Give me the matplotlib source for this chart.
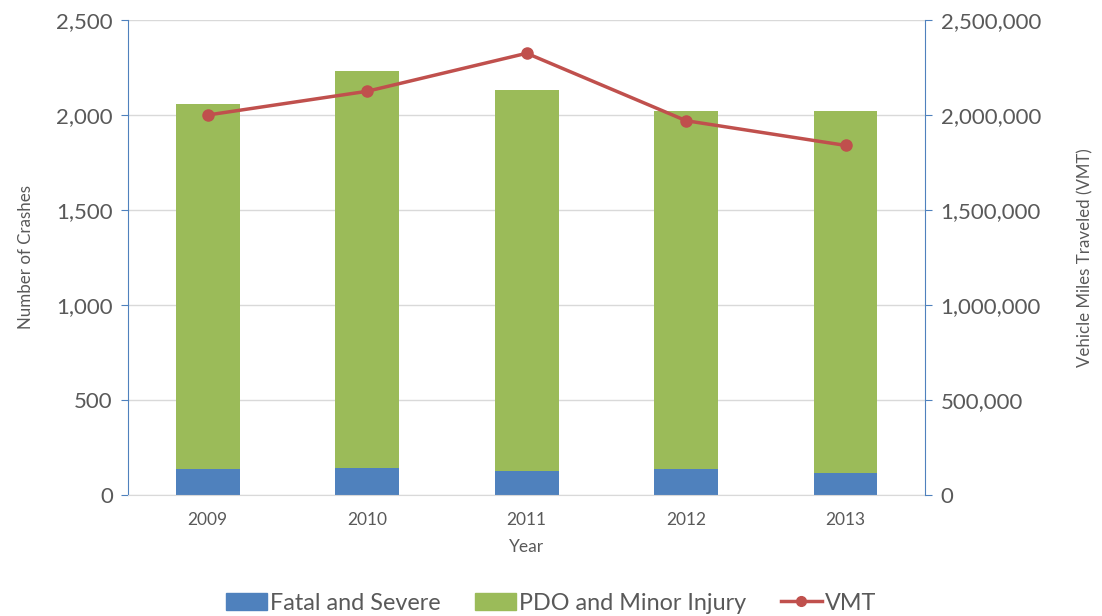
import matplotlib.pyplot as plt
import numpy as np
from matplotlib.ticker import FuncFormatter
from matplotlib.patches import Patch
from matplotlib.lines import Line2D

plt.rcParams["font.family"] = ["Lato", "DejaVu Sans"]

years = ["2009", "2010", "2011", "2012", "2013"]
fatal_severe = [137, 144, 126, 137, 114]
pdo_minor = [1921, 2088, 2006, 1884, 1907]
vmt = [2000000, 2125000, 2325000, 1970000, 1840000]

BLUE = "#4f81bd"
GREEN = "#9bbb59"
RED = "#c0504d"
TXT = "#595959"

fig, ax = plt.subplots(figsize=(11.02, 6.16), dpi=100)
fig.subplots_adjust(left=0.1162, right=0.8396, top=0.9675, bottom=0.1965)

x = np.arange(len(years))
ax.bar(x, fatal_severe, width=0.4, color=BLUE, zorder=2)
ax.bar(x, pdo_minor, width=0.4, bottom=fatal_severe, color=GREEN, zorder=2)

ax.set_xlim(-0.5, 4.5)
ax.set_ylim(0, 2500)
ax.set_yticks(range(0, 2501, 500))
ax.yaxis.set_major_formatter(FuncFormatter(lambda v, p: f"{int(v):,}"))
ax.set_xticks(x)
ax.set_xticklabels(years)
ax.grid(axis="y", color="#d9d9d9", linewidth=1, zorder=0)
ax.tick_params(axis="y", labelsize=16, colors=TXT, length=5, color=BLUE, pad=6)
ax.tick_params(axis="x", labelsize=12.5, colors=TXT, length=0, pad=12)
ax.set_ylabel("Number of Crashes", fontsize=12.2, color=TXT, labelpad=16)
ax.set_xlabel("Year", fontsize=12.5, color=TXT, labelpad=8)

for side in ["top", "right"]:
    ax.spines[side].set_visible(False)
ax.spines["left"].set_color(BLUE)
ax.spines["bottom"].set_color("#d9d9d9")

ax2 = ax.twinx()
ax2.plot(x, vmt, color=RED, linewidth=2.5, marker="o", markersize=8, zorder=3)
ax2.set_ylim(0, 2500000)
ax2.set_yticks(range(0, 2500001, 500000))
ax2.yaxis.set_major_formatter(FuncFormatter(lambda v, p: f"{int(v):,}"))
ax2.tick_params(axis="y", labelsize=16, colors=TXT, length=5, color=BLUE, pad=6)
ax2.set_ylabel("Vehicle Miles Traveled (VMT)", fontsize=12.2, color=TXT, labelpad=26)
for side in ["top", "left", "bottom"]:
    ax2.spines[side].set_visible(False)
ax2.spines["right"].set_color(BLUE)

handles = [
    Patch(color=BLUE, label="Fatal and Severe"),
    Patch(color=GREEN, label="PDO and Minor Injury"),
    Line2D([0], [0], color=RED, linewidth=2.5, marker="o", markersize=7, label="VMT"),
]
fig.legend(handles=handles, loc="center", bbox_to_anchor=(0.5, 0.021), ncol=3,
           frameon=False, fontsize=16.8, handlelength=1.75, handleheight=0.75,
           columnspacing=1.5, handletextpad=0.12, labelcolor=TXT, borderpad=0)

fig.savefig("out.png", dpi=100)
